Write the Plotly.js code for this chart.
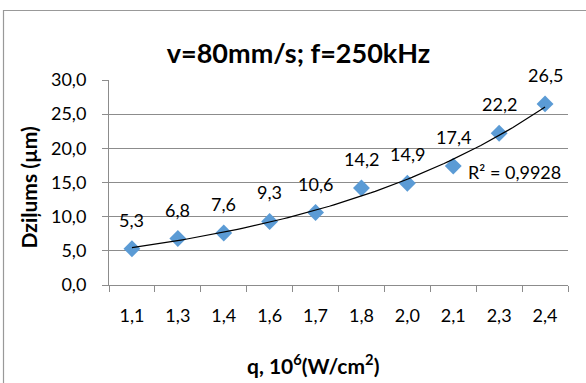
<!DOCTYPE html>
<html><head><meta charset="utf-8">
<script src="https://cdn.plot.ly/plotly-3.0.1.min.js"></script>
<style>html,body{margin:0;padding:0;background:#fff}#chart{width:586px;height:383px}</style>
</head><body><div id="chart"></div>
<script>
// ---- data ----
const categories = ["1,1","1,3","1,4","1,6","1,7","1,8","2,0","2,1","2,3","2,4"];
const depth = [5.3, 6.8, 7.6, 9.3, 10.6, 14.2, 14.9, 17.4, 22.2, 26.5];
const dataLabels = ["5,3","6,8","7,6","9,3","10,6","14,2","14,9","17,4","22,2","26,5"];
const yTickVals = [0, 5, 10, 15, 20, 25, 30];
const yTickText = ["0,0","5,0","10,0","15,0","20,0","25,0","30,0"];
const r2Text = "R² = 0,9928";
const titleText = "v=80mm/s; f=250kHz";
const xTitleText = "q, 10<sup>6</sup>(W/cm<sup>2</sup>)";
const yTitleText = "Dziļums (µm)";

// exponential trendline (least squares on ln y, like Excel) over category positions 1..n
const n = depth.length;
const pos = depth.map((_, i) => i + 1);
const lny = depth.map(v => Math.log(v));
const mx = pos.reduce((s, v) => s + v, 0) / n;
const my = lny.reduce((s, v) => s + v, 0) / n;
let sxy = 0, sxx = 0;
for (let i = 0; i < n; i++) { sxy += (pos[i] - mx) * (lny[i] - my); sxx += (pos[i] - mx) ** 2; }
const bCoef = sxy / sxx, aCoef = Math.exp(my - bCoef * mx);
const trendX = [], trendY = [];
for (let k = 0; k <= 90; k++) { const x = 1 + k * (n - 1) / 90; trendX.push(x); trendY.push(aCoef * Math.exp(bCoef * x)); }

const grey = '#8c8c8c';
const FONT = 'Lato, "Open Sans", sans-serif';

const traces = [
  { x: categories, y: depth, type: 'scatter', mode: 'markers', xaxis: 'x', yaxis: 'y',
    marker: { symbol: 'diamond', size: 13, color: '#5B9BD5' }, hoverinfo: 'none', showlegend: false },
  { x: trendX, y: trendY, type: 'scatter', mode: 'lines', xaxis: 'x2', yaxis: 'y',
    line: { color: '#000', width: 1.2 }, hoverinfo: 'none', showlegend: false }
];

const annotations = dataLabels.map((t, i) => ({
  xref: 'x2', yref: 'y', x: pos[i], y: depth[i], yshift: 29, text: t, showarrow: false,
  xanchor: 'center', yanchor: 'middle', font: { size: 18, color: '#000', family: FONT }
}));
annotations.push({ xref: 'paper', yref: 'paper', x: (465.7 - 109) / 459, y: (285 - 171.7) / 205,
  xanchor: 'left', yanchor: 'middle', text: r2Text, showarrow: false,
  font: { size: 18, color: '#000', family: FONT } });
annotations.push({ xref: 'paper', yref: 'paper', x: (28 - 109) / 459, y: (285 - 187.5) / 205,
  xanchor: 'center', yanchor: 'middle', text: '<b>' + yTitleText + '</b>', textangle: -90, showarrow: false,
  font: { size: 21, color: '#000', family: FONT } });
annotations.push({ xref: 'paper', yref: 'paper', x: (312.7 - 109) / 459, y: (285 - 364) / 205,
  xanchor: 'center', yanchor: 'middle', text: '<b>' + xTitleText + '</b>', showarrow: false,
  font: { size: 21, color: '#000', family: FONT } });

const layout = {
  width: 586, height: 383,
  margin: { l: 109, r: 18, t: 80, b: 98 },
  paper_bgcolor: '#fff', plot_bgcolor: '#fff',
  font: { family: FONT, color: '#000', size: 18 },
  title: { text: '<b>' + titleText + '</b>', x: 298.5 / 586, xanchor: 'center', xref: 'container',
    y: 1 - 54 / 383, yanchor: 'middle', yref: 'container', font: { size: 27, color: '#000', family: FONT } },
  xaxis: { type: 'category', categoryarray: categories, categoryorder: 'array', range: [-0.5, 9.5],
    tickson: 'boundaries', ticks: 'outside', ticklen: 6, tickcolor: grey, tickwidth: 1,
    showline: true, linecolor: grey, linewidth: 1, showgrid: false, zeroline: false,
    tickfont: { size: 18, family: FONT, color: '#000' }, ticklabelstandoff: 14, fixedrange: true },
  xaxis2: { overlaying: 'x', range: [0.5, 10.5], visible: false, fixedrange: true },
  yaxis: { range: [0, 30], tickmode: 'array', tickvals: yTickVals, ticktext: yTickText,
    ticks: 'outside', ticklen: 6, tickcolor: grey, tickwidth: 1,
    showline: true, linecolor: grey, linewidth: 1, showgrid: true, gridcolor: grey, gridwidth: 1,
    zeroline: false, tickfont: { size: 18, family: FONT, color: '#000' }, ticklabelstandoff: 12, fixedrange: true },
  shapes: [{ type: 'rect', xref: 'paper', yref: 'paper', layer: 'below',
    x0: (3.5 - 109) / 459, x1: 1.3, y0: -0.8, y1: (285 - 10.5) / 205,
    line: { color: '#999', width: 1.2 }, fillcolor: 'rgba(0,0,0,0)' }],
  annotations: annotations,
  showlegend: false
};

Plotly.newPlot('chart', traces, layout, { displayModeBar: false, staticPlot: true });
</script>
</body></html>
